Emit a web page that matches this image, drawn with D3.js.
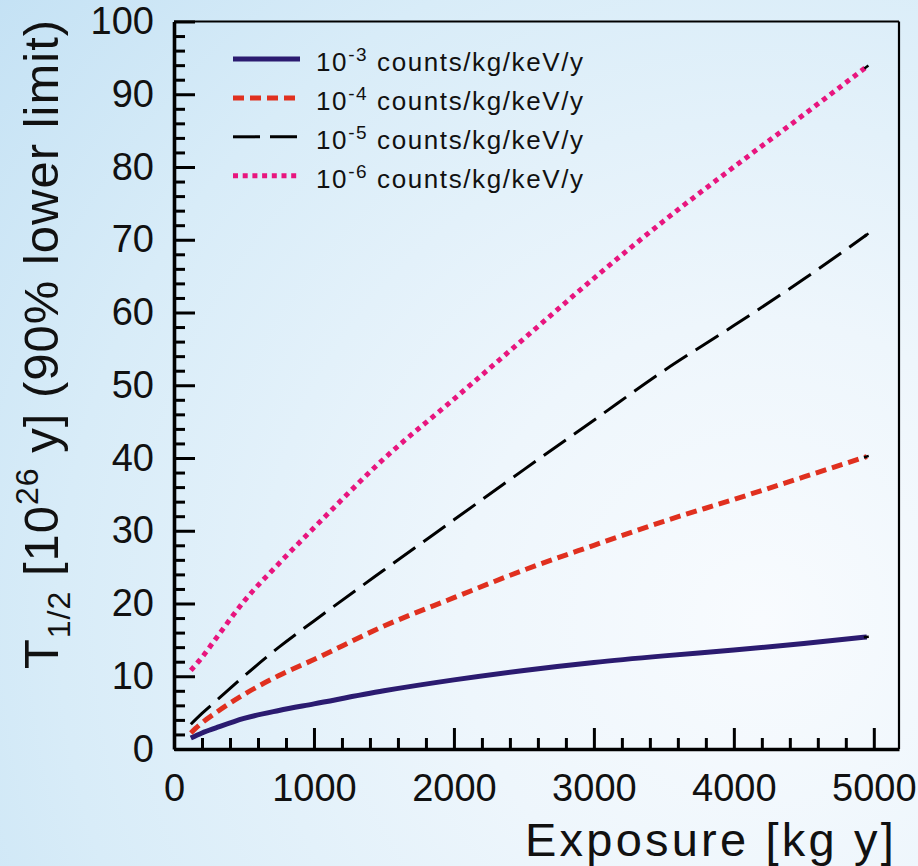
<!DOCTYPE html>
<html><head><meta charset="utf-8">
<script src="https://cdn.jsdelivr.net/npm/d3@7"></script>
<style>
body{margin:0;background:#fff;}
svg{display:block;font-family:"Liberation Sans",Arial,Helvetica,sans-serif;}
</style>
</head><body>
<svg id="chart" width="918" height="866"></svg>
<script>
// ---- data ----
const exposure = [120, 200, 300, 500, 750, 1000, 1500, 2000, 2500, 3000, 3500, 4000, 4500, 4950];
const bkg1e3 = [1.5, 2.2, 2.9, 4.2, 5.3, 6.2, 8.0, 9.5, 10.8, 11.9, 12.8, 13.6, 14.5, 15.4];
const bkg1e4 = [2.2, 3.6, 5.0, 7.5, 10.1, 12.3, 16.9, 20.8, 24.6, 28.0, 31.3, 34.3, 37.4, 40.2];
const bkg1e5 = [3.4, 4.9, 6.6, 10.0, 14.0, 17.6, 24.6, 31.5, 38.4, 45.2, 52.0, 58.2, 64.6, 70.7];
const bkg1e6 = [10.8, 12.6, 15.2, 20.3, 25.5, 30.4, 39.9, 48.1, 56.4, 64.7, 72.6, 80.0, 87.2, 93.8];
const seriesExponents = ["-3", "-4", "-5", "-6"];
const legendUnit = " counts/kg/keV/y";
const xMajorTicks = [0, 1000, 2000, 3000, 4000, 5000];
const yMajorTicks = [0, 10, 20, 30, 40, 50, 60, 70, 80, 90, 100];
const xMinorStep = 200, yMinorStep = 2;
const xDomain = [0, 5180], yDomain = [0, 100];
const xTitle = "Exposure [kg y]";

// ---- styles ----
const styles = [
  {color: "#2b1b70", width: 5, dash: null},
  {color: "#e0301f", width: 5, dash: "11,6"},
  {color: "#000000", width: 3, dash: "27,10"},
  {color: "#e8157e", width: 5, dash: "5,4.7"}
];
const seriesValues = [bkg1e3, bkg1e4, bkg1e5, bkg1e6];

const svg = d3.select("#chart");
const W = 918, H = 866;
const plot = {left: 174, right: 899, top: 21.5, bottom: 749};

// background gradient
const defs = svg.append("defs");
const rg = defs.append("radialGradient").attr("id", "bg")
  .attr("gradientUnits", "userSpaceOnUse")
  .attr("cx", 760).attr("cy", 620).attr("r", 1000);
rg.append("stop").attr("offset", "0").attr("stop-color", "#f8fbfe");
rg.append("stop").attr("offset", "0.3").attr("stop-color", "#eef6fc");
rg.append("stop").attr("offset", "0.7").attr("stop-color", "#d8ecf8");
rg.append("stop").attr("offset", "1").attr("stop-color", "#c3e1f4");
svg.append("rect").attr("width", W).attr("height", H).attr("fill", "url(#bg)");

const x = d3.scaleLinear().domain(xDomain).range([plot.left, plot.right]);
const y = d3.scaleLinear().domain(yDomain).range([plot.bottom, plot.top]);

// lines
const line = d3.line().x(d => x(d[0])).y(d => y(d[1])).curve(d3.curveMonotoneX);
seriesValues.forEach((vals, i) => {
  const s = styles[i];
  const pts = exposure.map((e, k) => [e, vals[k]]);
  svg.append("path")
    .attr("d", line(pts))
    .attr("fill", "none")
    .attr("stroke", s.color)
    .attr("stroke-width", s.width)
    .attr("stroke-dasharray", s.dash)
    .attr("stroke-linecap", "butt");
  // small black end mark, as in the original
  const n = pts.length;
  const p1 = pts[n - 1], p0 = pts[n - 2];
  const dx = x(p1[0]) - x(p0[0]), dy = y(p1[1]) - y(p0[1]);
  const len = Math.hypot(dx, dy);
  svg.append("line")
    .attr("x1", x(p1[0]) - dx / len * 3).attr("y1", y(p1[1]) - dy / len * 3)
    .attr("x2", x(p1[0]) + dx / len * 2).attr("y2", y(p1[1]) + dy / len * 2)
    .attr("stroke", "#000").attr("stroke-width", 2.5);
});

// frame (top & right)
svg.append("line").attr("x1", plot.left).attr("x2", plot.right).attr("y1", plot.top).attr("y2", plot.top)
  .attr("stroke", "#000").attr("stroke-width", 2.2);
svg.append("line").attr("x1", plot.right).attr("x2", plot.right).attr("y1", plot.top).attr("y2", plot.bottom)
  .attr("stroke", "#000").attr("stroke-width", 2.2);

// minor ticks
const xMinor = d3.range(xDomain[0], 5000 + 1, xMinorStep).filter(v => !xMajorTicks.includes(v));
const yMinor = d3.range(yDomain[0], yDomain[1] + 1, yMinorStep).filter(v => !yMajorTicks.includes(v));

const gxMinor = svg.append("g").attr("transform", `translate(0,${plot.bottom})`)
  .call(d3.axisBottom(x).tickValues(xMinor).tickSize(-11).tickFormat(""));
const gyMinor = svg.append("g").attr("transform", `translate(${plot.left},0)`)
  .call(d3.axisLeft(y).tickValues(yMinor).tickSize(-11).tickFormat(""));
[gxMinor, gyMinor].forEach(g => { g.select(".domain").remove(); g.selectAll("line").attr("stroke-width", 3); });

// major axes
const gx = svg.append("g").attr("transform", `translate(0,${plot.bottom})`)
  .call(d3.axisBottom(x).tickValues(xMajorTicks).tickSize(-21).tickSizeOuter(0).tickPadding(25).tickFormat(d3.format("d")));
const gy = svg.append("g").attr("transform", `translate(${plot.left},0)`)
  .call(d3.axisLeft(y).tickValues(yMajorTicks).tickSize(-21).tickSizeOuter(0).tickPadding(20).tickFormat(d3.format("d")));
[gx, gy].forEach(g => {
  g.select(".domain").attr("stroke-width", 3.6).attr("stroke", "#000");
  g.selectAll(".tick line").attr("stroke-width", 3).attr("stroke", "#000");
  g.selectAll(".tick text").attr("fill", "#111").style("font-size", "38px")
    .style("font-family", '"Liberation Sans",Arial,sans-serif');
});

// axis titles
svg.append("text").attr("x", 897).attr("y", 856).attr("text-anchor", "end")
  .style("font-size", "47px").style("letter-spacing", "3.2px").attr("fill", "#111").text(xTitle);

const yt = svg.append("text").attr("transform", "translate(58,344) rotate(-90)")
  .attr("text-anchor", "middle").style("font-size", "49px").style("letter-spacing", "1px").attr("fill", "#111");
yt.append("tspan").text("T");
yt.append("tspan").style("font-size", "32px").attr("dy", 12).text("1/2");
yt.append("tspan").attr("dy", -12).text(" [10");
yt.append("tspan").style("font-size", "32px").attr("dy", -20).text("26");
yt.append("tspan").attr("dy", 20).text(" y] (90% lower limit)");

// legend
const legend = svg.append("g");
const legY0 = 59, legDY = 38.9;
seriesExponents.forEach((ex, i) => {
  const s = styles[i];
  const yy = legY0 + i * legDY;
  legend.append("line").attr("x1", 233).attr("x2", 300).attr("y1", yy).attr("y2", yy)
    .attr("stroke", s.color).attr("stroke-width", s.width).attr("stroke-dasharray", s.dash);
  const t = legend.append("text").attr("x", 316).attr("y", yy + 12)
    .style("font-size", "26px").style("letter-spacing", "1.6px").attr("fill", "#111");
  t.append("tspan").text("10");
  t.append("tspan").style("font-size", "19px").attr("dy", -10).text(ex);
  t.append("tspan").attr("dy", 10).text(legendUnit);
});
</script>
</body></html>
